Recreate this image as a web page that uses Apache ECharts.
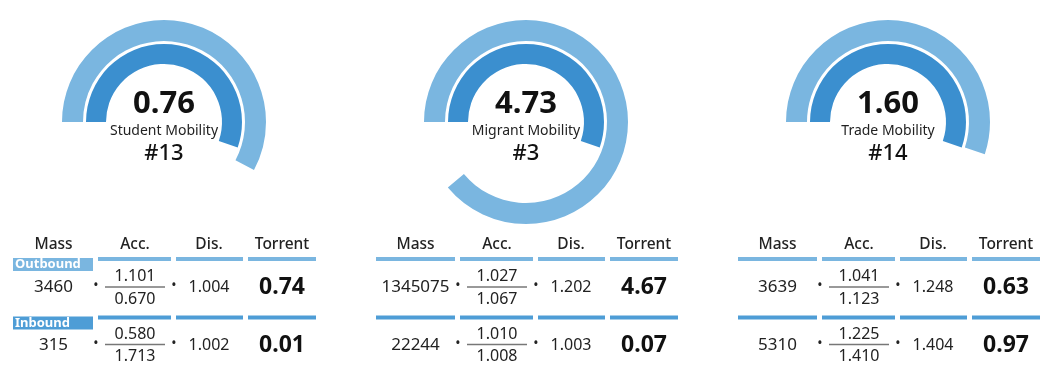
<!DOCTYPE html>
<html>
<head>
<meta charset="utf-8">
<script src="https://cdn.jsdelivr.net/npm/echarts@6/dist/echarts.min.js"></script>
<style>
  html, body { margin: 0; background: #fff; }
  #chart { width: 1048px; height: 376px; }
</style>
</head>
<body>
<div id="chart"></div>
<script>
// gauge data
const mobility = ["Student Mobility", "Migrant Mobility", "Trade Mobility"];
const scores = ["0.76", "4.73", "1.60"];
const ranks = ["#13", "#3", "#14"];
const outerArc = [0.578, 0.889, 0.551]; // share of full circle
const innerArc = [0.553, 0.553, 0.553];

// table data
const columns = ["Mass", "Acc.", "Dis.", "Torrent"];
const rowLabels = ["Outbound", "Inbound"];
const massOut = ["3460", "1345075", "3639"];
const massIn = ["315", "22244", "5310"];
const accNumOut = ["1.101", "1.027", "1.041"];
const accDenOut = ["0.670", "1.067", "1.123"];
const accNumIn = ["0.580", "1.010", "1.225"];
const accDenIn = ["1.713", "1.008", "1.410"];
const disOut = ["1.004", "1.202", "1.248"];
const disIn = ["1.002", "1.003", "1.404"];
const torrentOut = ["0.74", "4.67", "0.63"];
const torrentIn = ["0.01", "0.07", "0.97"];

const LIGHT = "#7ab6e0";
const DARK = "#3b8fcf";
const ROW2 = "#4e9dd6";
const FONT = '"Noto Sans", sans-serif';
const STEP = 362;
const colCenter = [53.5, 135, 209, 282];
const colBar = [[14, 93], [98, 171], [176, 243], [248, 316]];

function gaugeSeries(i, radius, width, color, value, withText) {
  return {
    type: "gauge",
    center: [164 + STEP * i, 122],
    radius: radius,
    startAngle: 180,
    endAngle: -180,
    min: 0,
    max: 1,
    animation: false,
    progress: { show: true, width: width, itemStyle: { color: color } },
    axisLine: { show: false },
    axisTick: { show: false },
    splitLine: { show: false },
    axisLabel: { show: false },
    pointer: { show: false },
    anchor: { show: false },
    title: { show: false },
    detail: withText
      ? {
          offsetCenter: [0, 5],
          formatter: () => `{v|${scores[i]}}\n{n|${mobility[i]}}\n{r|${ranks[i]}}`,
          rich: {
            v: { fontFamily: FONT, fontWeight: "bold", fontSize: 31, color: "#111", lineHeight: 32 },
            n: { fontFamily: FONT, fontWeight: "normal", fontSize: 14, color: "#222", lineHeight: 22 },
            r: { fontFamily: FONT, fontWeight: 500, fontSize: 22, color: "#111", lineHeight: 24 },
          },
        }
      : { show: false },
    data: [{ value: value }],
  };
}

const series = [];
for (let i = 0; i < 3; i++) {
  series.push(gaugeSeries(i, 102, 21, LIGHT, outerArc[i], false));
  series.push(gaugeSeries(i, 78, 20, DARK, innerArc[i], true));
}

function txt(x, y, s, size, weight, color) {
  return {
    type: "text",
    x: x,
    y: y,
    silent: true,
    style: {
      text: s,
      fill: color || "#222",
      font: `${weight || "normal"} ${size}px ${FONT}`,
      textAlign: "center",
      textVerticalAlign: "middle",
    },
  };
}
function rect(x, y, w, h, color) {
  return { type: "rect", silent: true, shape: { x: x, y: y, width: w, height: h }, style: { fill: color } };
}

const graphics = [];
for (let i = 0; i < 3; i++) {
  const ox = STEP * i;
  columns.forEach((c, k) => graphics.push(txt(ox + colCenter[k], 245, c, 15.5, 500, "#222")));
  const rows = [
    { y: 287.5, barY: 257, color: LIGHT, mass: massOut, num: accNumOut, den: accDenOut, dis: disOut, tor: torrentOut },
    { y: 345, barY: 315.5, color: ROW2, mass: massIn, num: accNumIn, den: accDenIn, dis: disIn, tor: torrentIn },
  ];
  rows.forEach((r, j) => {
    colBar.forEach((b, k) => {
      if (k === 0 && i === 0) return;
      graphics.push(rect(ox + b[0], r.barY, b[1] - b[0], 4, r.color));
    });
    if (i === 0) {
      graphics.push(rect(13, r.barY + 1, 80, 13, r.color));
      graphics.push({
        type: "text", x: 15, y: r.barY + 7.5, silent: true,
        style: { text: rowLabels[j], fill: "#fff", font: `bold 13px ${FONT}`, textAlign: "left", textVerticalAlign: "middle" },
      });
    }
    graphics.push(txt(ox + colCenter[0], r.y, r.mass[i], 17));
    graphics.push(txt(ox + 96, r.y - 1, "•", 14, "normal", "#222"));
    graphics.push(txt(ox + 135, r.y - 11, r.num[i], 16));
    graphics.push({
      type: "line", silent: true,
      shape: { x1: ox + 105, y1: r.y - 0.5, x2: ox + 165, y2: r.y - 0.5 },
      style: { stroke: "#777", lineWidth: 1.5 },
    });
    graphics.push(txt(ox + 135, r.y + 11.5, r.den[i], 16));
    graphics.push(txt(ox + 174, r.y - 1, "•", 14, "normal", "#222"));
    graphics.push(txt(ox + colCenter[2], r.y, r.dis[i], 16));
    graphics.push(txt(ox + colCenter[3], r.y, r.tor[i], 23, "bold", "#111"));
  });
}

const chart = echarts.init(document.getElementById("chart"));
chart.setOption({
  animation: false,
  series: series,
  graphic: { elements: graphics },
});
</script>
</body>
</html>
